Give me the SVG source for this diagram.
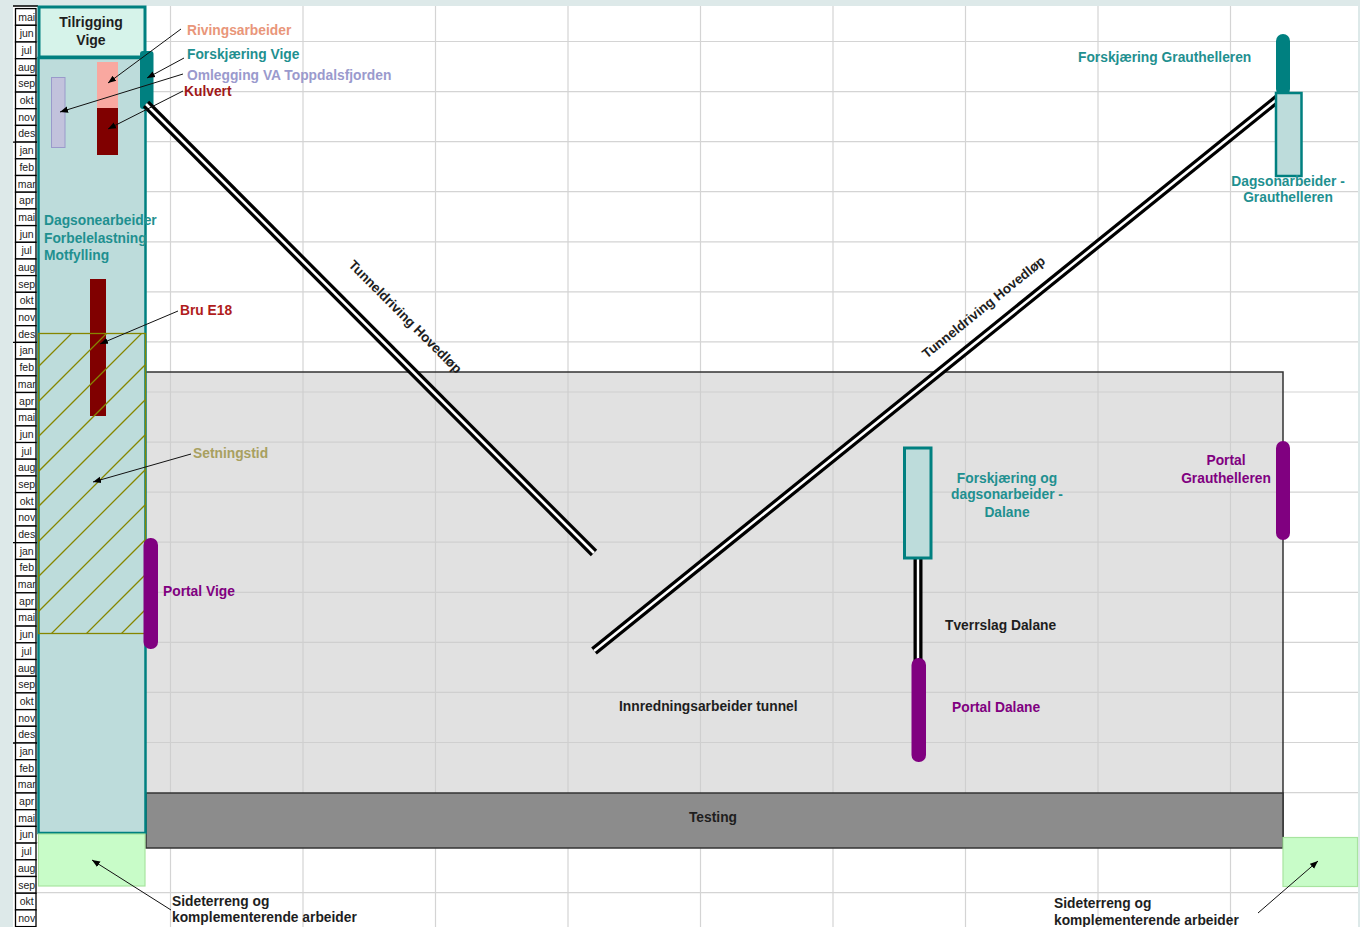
<svg xmlns="http://www.w3.org/2000/svg" width="1360" height="927" viewBox="0 0 1360 927">
<style>
.lbl{font-family:"Liberation Sans",Arial,sans-serif;font-size:13.8px;font-weight:bold}
.mo{font-family:"Liberation Sans",Arial,sans-serif;font-size:10.5px;fill:#222;text-anchor:middle}
.teal{fill:#1f9090}
.purp{fill:#800080}
.dark{fill:#1e1e1e}
.grid{stroke:#d4d4d4;stroke-width:1.2;fill:none}
.arr{stroke:#111;stroke-width:1;fill:none;marker-end:url(#ah)}
.cell{fill:#fff;stroke:#000;stroke-width:1.3}
.tun{stroke:#000;stroke-width:9;fill:none}
.tunw{stroke:#fff;stroke-width:2.6;fill:none}
</style>
<defs>
<marker id="ah" viewBox="0 0 10 10" refX="10" refY="5" markerWidth="8" markerHeight="8" markerUnits="userSpaceOnUse" orient="auto"><path d="M0,1 L10,5 L0,9 z" fill="#000"/></marker>
<clipPath id="hclip"><rect x="38" y="333" width="107" height="300"/></clipPath>
</defs>
<rect x="0" y="0" width="1360" height="927" fill="#dde9e9"/>
<rect x="13" y="6" width="1345" height="921" fill="#fff"/>
<g id="grid">
<path class="grid" d="M170.5,6V927M303,6V927M435.5,6V927M568,6V927M700.5,6V927M833,6V927M965.5,6V927M1098,6V927M1230.5,6V927"/>
<path class="grid" d="M37,41.5H1358M37,91.6H1358M37,141.6H1358M37,191.7H1358M37,241.8H1358M37,291.9H1358M37,341.9H1358M37,392H1358M37,442.1H1358M37,492.1H1358M37,542.2H1358M37,592.3H1358M37,642.3H1358M37,692.4H1358M37,742.5H1358M37,792.6H1358M37,842.6H1358M37,892.7H1358"/>
</g>
<g id="innredning">
<rect x="146" y="372" width="1137" height="421" fill="#e1e1e1"/>
<path class="grid" style="stroke:#cfcfcf" d="M170.5,372V793M303,372V793M435.5,372V793M568,372V793M700.5,372V793M833,372V793M965.5,372V793M1098,372V793M1230.5,372V793M146,392H1283M146,442.1H1283M146,492.1H1283M146,542.2H1283M146,592.3H1283M146,642.3H1283M146,692.4H1283M146,742.5H1283"/>
<path d="M146,372H1283V848" stroke="#333" stroke-width="1.5" fill="none"/>
<text class="lbl dark" x="619" y="711">Innredningsarbeider tunnel</text>
</g>
<g id="testing">
<rect x="146" y="793" width="1137" height="55" fill="#8c8c8c" stroke="#333" stroke-width="1.5"/>
<text class="lbl dark" x="713" y="822" text-anchor="middle">Testing</text>
</g>
<g id="months">
<path d="M13,6H38M13,142.1H37M13,342.4H37M13,542.7H37M13,743H37" stroke="#000" stroke-width="1.3"/>
<rect class="cell" x="15.5" y="8.6" width="20.5" height="16.7"/><text class="mo" x="26.7" y="20.6">mai</text>
<rect class="cell" x="15.5" y="25.3" width="20.5" height="16.7"/><text class="mo" x="26.7" y="37.3">jun</text>
<rect class="cell" x="15.5" y="42.0" width="20.5" height="16.7"/><text class="mo" x="26.7" y="54.0">jul</text>
<rect class="cell" x="15.5" y="58.7" width="20.5" height="16.7"/><text class="mo" x="26.7" y="70.7">aug</text>
<rect class="cell" x="15.5" y="75.4" width="20.5" height="16.7"/><text class="mo" x="26.7" y="87.4">sep</text>
<rect class="cell" x="15.5" y="92.1" width="20.5" height="16.7"/><text class="mo" x="26.7" y="104.1">okt</text>
<rect class="cell" x="15.5" y="108.7" width="20.5" height="16.7"/><text class="mo" x="26.7" y="120.7">nov</text>
<rect class="cell" x="15.5" y="125.4" width="20.5" height="16.7"/><text class="mo" x="26.7" y="137.4">des</text>
<rect class="cell" x="15.5" y="142.1" width="20.5" height="16.7"/><text class="mo" x="26.7" y="154.1">jan</text>
<rect class="cell" x="15.5" y="158.8" width="20.5" height="16.7"/><text class="mo" x="26.7" y="170.8">feb</text>
<rect class="cell" x="15.5" y="175.5" width="20.5" height="16.7"/><text class="mo" x="26.7" y="187.5">mar</text>
<rect class="cell" x="15.5" y="192.2" width="20.5" height="16.7"/><text class="mo" x="26.7" y="204.2">apr</text>
<rect class="cell" x="15.5" y="208.9" width="20.5" height="16.7"/><text class="mo" x="26.7" y="220.9">mai</text>
<rect class="cell" x="15.5" y="225.6" width="20.5" height="16.7"/><text class="mo" x="26.7" y="237.6">jun</text>
<rect class="cell" x="15.5" y="242.3" width="20.5" height="16.7"/><text class="mo" x="26.7" y="254.3">jul</text>
<rect class="cell" x="15.5" y="259.0" width="20.5" height="16.7"/><text class="mo" x="26.7" y="271.0">aug</text>
<rect class="cell" x="15.5" y="275.6" width="20.5" height="16.7"/><text class="mo" x="26.7" y="287.6">sep</text>
<rect class="cell" x="15.5" y="292.3" width="20.5" height="16.7"/><text class="mo" x="26.7" y="304.3">okt</text>
<rect class="cell" x="15.5" y="309.0" width="20.5" height="16.7"/><text class="mo" x="26.7" y="321.0">nov</text>
<rect class="cell" x="15.5" y="325.7" width="20.5" height="16.7"/><text class="mo" x="26.7" y="337.7">des</text>
<rect class="cell" x="15.5" y="342.4" width="20.5" height="16.7"/><text class="mo" x="26.7" y="354.4">jan</text>
<rect class="cell" x="15.5" y="359.1" width="20.5" height="16.7"/><text class="mo" x="26.7" y="371.1">feb</text>
<rect class="cell" x="15.5" y="375.8" width="20.5" height="16.7"/><text class="mo" x="26.7" y="387.8">mar</text>
<rect class="cell" x="15.5" y="392.5" width="20.5" height="16.7"/><text class="mo" x="26.7" y="404.5">apr</text>
<rect class="cell" x="15.5" y="409.2" width="20.5" height="16.7"/><text class="mo" x="26.7" y="421.2">mai</text>
<rect class="cell" x="15.5" y="425.9" width="20.5" height="16.7"/><text class="mo" x="26.7" y="437.9">jun</text>
<rect class="cell" x="15.5" y="442.5" width="20.5" height="16.7"/><text class="mo" x="26.7" y="454.5">jul</text>
<rect class="cell" x="15.5" y="459.2" width="20.5" height="16.7"/><text class="mo" x="26.7" y="471.2">aug</text>
<rect class="cell" x="15.5" y="475.9" width="20.5" height="16.7"/><text class="mo" x="26.7" y="487.9">sep</text>
<rect class="cell" x="15.5" y="492.6" width="20.5" height="16.7"/><text class="mo" x="26.7" y="504.6">okt</text>
<rect class="cell" x="15.5" y="509.3" width="20.5" height="16.7"/><text class="mo" x="26.7" y="521.3">nov</text>
<rect class="cell" x="15.5" y="526.0" width="20.5" height="16.7"/><text class="mo" x="26.7" y="538.0">des</text>
<rect class="cell" x="15.5" y="542.7" width="20.5" height="16.7"/><text class="mo" x="26.7" y="554.7">jan</text>
<rect class="cell" x="15.5" y="559.4" width="20.5" height="16.7"/><text class="mo" x="26.7" y="571.4">feb</text>
<rect class="cell" x="15.5" y="576.1" width="20.5" height="16.7"/><text class="mo" x="26.7" y="588.1">mar</text>
<rect class="cell" x="15.5" y="592.8" width="20.5" height="16.7"/><text class="mo" x="26.7" y="604.8">apr</text>
<rect class="cell" x="15.5" y="609.4" width="20.5" height="16.7"/><text class="mo" x="26.7" y="621.4">mai</text>
<rect class="cell" x="15.5" y="626.1" width="20.5" height="16.7"/><text class="mo" x="26.7" y="638.1">jun</text>
<rect class="cell" x="15.5" y="642.8" width="20.5" height="16.7"/><text class="mo" x="26.7" y="654.8">jul</text>
<rect class="cell" x="15.5" y="659.5" width="20.5" height="16.7"/><text class="mo" x="26.7" y="671.5">aug</text>
<rect class="cell" x="15.5" y="676.2" width="20.5" height="16.7"/><text class="mo" x="26.7" y="688.2">sep</text>
<rect class="cell" x="15.5" y="692.9" width="20.5" height="16.7"/><text class="mo" x="26.7" y="704.9">okt</text>
<rect class="cell" x="15.5" y="709.6" width="20.5" height="16.7"/><text class="mo" x="26.7" y="721.6">nov</text>
<rect class="cell" x="15.5" y="726.3" width="20.5" height="16.7"/><text class="mo" x="26.7" y="738.3">des</text>
<rect class="cell" x="15.5" y="743.0" width="20.5" height="16.7"/><text class="mo" x="26.7" y="755.0">jan</text>
<rect class="cell" x="15.5" y="759.7" width="20.5" height="16.7"/><text class="mo" x="26.7" y="771.7">feb</text>
<rect class="cell" x="15.5" y="776.3" width="20.5" height="16.7"/><text class="mo" x="26.7" y="788.3">mar</text>
<rect class="cell" x="15.5" y="793.0" width="20.5" height="16.7"/><text class="mo" x="26.7" y="805.0">apr</text>
<rect class="cell" x="15.5" y="809.7" width="20.5" height="16.7"/><text class="mo" x="26.7" y="821.7">mai</text>
<rect class="cell" x="15.5" y="826.4" width="20.5" height="16.7"/><text class="mo" x="26.7" y="838.4">jun</text>
<rect class="cell" x="15.5" y="843.1" width="20.5" height="16.7"/><text class="mo" x="26.7" y="855.1">jul</text>
<rect class="cell" x="15.5" y="859.8" width="20.5" height="16.7"/><text class="mo" x="26.7" y="871.8">aug</text>
<rect class="cell" x="15.5" y="876.5" width="20.5" height="16.7"/><text class="mo" x="26.7" y="888.5">sep</text>
<rect class="cell" x="15.5" y="893.2" width="20.5" height="16.7"/><text class="mo" x="26.7" y="905.2">okt</text>
<rect class="cell" x="15.5" y="909.9" width="20.5" height="16.7"/><text class="mo" x="26.7" y="921.9">nov</text>
</g>
<g id="vige-column">
<rect x="38.5" y="58" width="107" height="775" fill="#bddcdb" stroke="#008080" stroke-width="2.5"/>
<text class="lbl teal" x="44" y="225">Dagsonearbeider</text>
<text class="lbl teal" x="44" y="243">Forbelelastning</text>
<text class="lbl teal" x="44" y="260">Motfylling</text>
</g>
<g id="tilrigging-vige">
<rect x="39" y="7" width="106" height="50" fill="#d6f3ea" stroke="#008080" stroke-width="3"/>
<text class="lbl dark" x="91" y="27" text-anchor="middle" style="font-size:14px">Tilrigging</text>
<text class="lbl dark" x="91" y="45" text-anchor="middle" style="font-size:14px">Vige</text>
</g>
<g id="sideterreng-vige">
<rect x="38.5" y="834" width="106.5" height="52" fill="#c8fcc8" stroke="#a8e4a0" stroke-width="1.2"/>
</g>
<g id="sideterreng-grauthelleren">
<rect x="1283" y="837.5" width="74.5" height="49" fill="#c8fcc8" stroke="#a8e4a0" stroke-width="1.2"/>
</g>
<g id="omlegging-va">
<rect x="51.5" y="77.5" width="13.5" height="70" fill="#c2c2dc" stroke="#9a9acb" stroke-width="1"/>
</g>
<g id="rivingsarbeider">
<rect x="97" y="62" width="21" height="46" fill="#f9a8a0"/>
</g>
<g id="kulvert">
<rect x="97" y="108" width="21" height="47" fill="#800000"/>
</g>
<g id="bru-e18">
<rect x="90" y="279" width="16" height="137" fill="#800000"/>
</g>
<g id="setningstid">
<g clip-path="url(#hclip)">
<path d="M38,332L145,225M38,367L145,260M38,402L145,295M38,437L145,330M38,472L145,365M38,507L145,400M38,542L145,435M38,577L145,470M38,612L145,505M38,647L145,540M38,682L145,575M38,717L145,610" stroke="#868600" stroke-width="1.3" fill="none"/>
</g>
<rect x="38.5" y="333.5" width="107" height="300" fill="none" stroke="#868600" stroke-width="1.3"/>
</g>
<g id="forskjaering-vige">
<rect x="140" y="51" width="13.5" height="58" rx="3" fill="#008080"/>
</g>
<g id="portal-vige">
<rect x="143.5" y="538" width="14.5" height="111" rx="7" fill="#800080"/>
<text class="lbl purp" x="163" y="596">Portal Vige</text>
</g>
<g id="tunnel-vige">
<path class="tun" d="M146,104L594,553"/>
<path class="tunw" d="M146,104L594,553"/>
<text class="lbl dark" transform="translate(402,320) rotate(45)" text-anchor="middle" style="font-size:13.5px">Tunneldriving Hovedløp</text>
</g>
<g id="tunnel-grauthelleren">
<path class="tun" d="M594,651L1281,96"/>
<path class="tunw" d="M594,651L1281,96"/>
<text class="lbl dark" transform="translate(986.5,310.7) rotate(-38.9)" text-anchor="middle" style="font-size:13.5px">Tunneldriving Hovedløp</text>
</g>
<g id="forskjaering-grauthelleren">
<rect x="1276" y="34" width="14" height="62" rx="7" fill="#008080"/>
<text class="lbl teal" x="1078" y="62">Forskjæring Grauthelleren</text>
</g>
<g id="dagsonarbeider-grauthelleren">
<rect x="1276" y="93" width="25.5" height="83" fill="#bddcdb" stroke="#008080" stroke-width="2.5"/>
<text class="lbl teal" x="1288" y="186" text-anchor="middle">Dagsonarbeider -</text>
<text class="lbl teal" x="1288" y="202" text-anchor="middle">Grauthelleren</text>
</g>
<g id="portal-grauthelleren">
<rect x="1276" y="441" width="14" height="99" rx="7" fill="#800080"/>
<text class="lbl purp" x="1226" y="465" text-anchor="middle">Portal</text>
<text class="lbl purp" x="1226" y="483" text-anchor="middle">Grauthelleren</text>
</g>
<g id="tverrslag-dalane">
<path d="M918,558V664" stroke="#000" stroke-width="9" fill="none"/>
<path d="M918,558V664" stroke="#fff" stroke-width="2.4" fill="none"/>
<text class="lbl dark" x="945" y="630">Tverrslag Dalane</text>
</g>
<g id="forskjaering-dalane">
<rect x="904.5" y="448" width="26.5" height="110" fill="#bddcdb" stroke="#008080" stroke-width="3"/>
<text class="lbl teal" x="1007" y="483" text-anchor="middle">Forskjæring og</text>
<text class="lbl teal" x="1007" y="499" text-anchor="middle">dagsonarbeider -</text>
<text class="lbl teal" x="1007" y="517" text-anchor="middle">Dalane</text>
</g>
<g id="portal-dalane">
<rect x="911.5" y="658" width="14.5" height="104" rx="7" fill="#800080"/>
<text class="lbl purp" x="952" y="712">Portal Dalane</text>
</g>
<g id="labels">
<text class="lbl" x="187" y="35" fill="#e9967a">Rivingsarbeider</text>
<text class="lbl teal" x="187" y="59">Forskjæring Vige</text>
<text class="lbl" x="187" y="80" fill="#9a9acd">Omlegging VA Toppdalsfjorden</text>
<text class="lbl" x="184" y="96" fill="#a01818">Kulvert</text>
<text class="lbl" x="180" y="315" fill="#b01c1c">Bru E18</text>
<text class="lbl" x="193" y="458" fill="#a8a060">Setningstid</text>
<text class="lbl dark" x="172" y="906">Sideterreng og</text>
<text class="lbl dark" x="172" y="922">komplementerende arbeider</text>
<text class="lbl dark" x="1054" y="908">Sideterreng og</text>
<text class="lbl dark" x="1054" y="925">komplementerende arbeider</text>
</g>
<g id="connectors">
<path class="arr" d="M181,29L108,83"/>
<path class="arr" d="M184,58L147,78"/>
<path class="arr" d="M183,74L60,112"/>
<path class="arr" d="M183,91L108,129"/>
<path class="arr" d="M178,311L100,344"/>
<path class="arr" d="M191,454L93,482"/>
<path class="arr" d="M171,910L92,860"/>
<path class="arr" d="M1258,913L1318,861"/>
</g>
</svg>
